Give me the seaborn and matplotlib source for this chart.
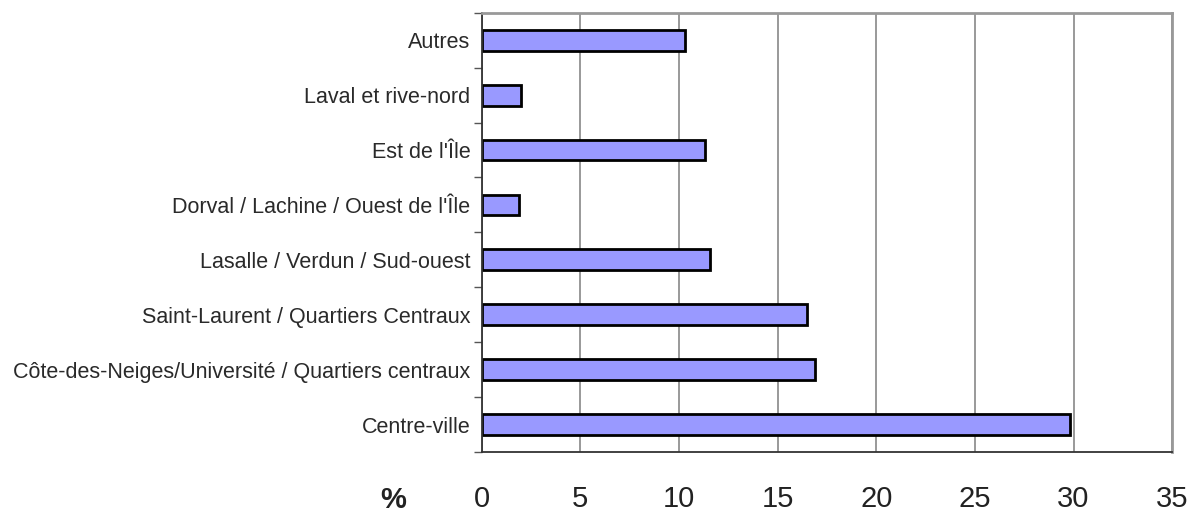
import matplotlib

matplotlib.use("Agg")
import matplotlib.pyplot as plt
import pandas as pd
import seaborn as sns

regions = [
    "Autres",
    "Laval et rive-nord",
    "Est de l'Île",
    "Dorval / Lachine / Ouest de l'Île",
    "Lasalle / Verdun / Sud-ouest",
    "Saint-Laurent / Quartiers Centraux",
    "Côte-des-Neiges/Université / Quartiers centraux",
    "Centre-ville",
]
percent = [10.3, 2.0, 11.3, 1.9, 11.6, 16.5, 16.9, 29.8]
x_ticks = [0, 5, 10, 15, 20, 25, 30, 35]

df = pd.DataFrame({"region": regions, "pct": percent})

sns.set_theme(style="white")
plt.rcParams["font.family"] = ["Liberation Sans", "DejaVu Sans"]

fig = plt.figure(figsize=(12.01, 5.13), dpi=100)
ax = fig.add_axes([0.401, 0.119, 0.575, 0.856])

sns.barplot(data=df, x="pct", y="region", orient="h", color="#9999ff",
            saturation=1, width=0.38, edgecolor="black", linewidth=2, ax=ax)

ax.set_xlim(0, 35)
ax.set_ylim(len(regions) - 0.5, -0.5)
ax.set_xticks(x_ticks)
ax.set_xticklabels([str(t) for t in x_ticks], fontsize=21, color="#222222")
ax.set_yticks(range(len(regions)))
ax.set_yticklabels(regions, fontsize=15.5, color="#2a2a2a")
ax.tick_params(axis="y", length=0, pad=8)
ax.tick_params(axis="x", length=10, width=1.2, color="#555555", pad=14, direction="out")

# minor ticks between categories on the y axis
ax.set_yticks([i + 0.5 for i in range(-1, len(regions))], minor=True)
ax.tick_params(axis="y", which="minor", length=6, width=1, color="#555555", left=True)

ax.xaxis.grid(True, color="#888888", lw=1.2)
ax.set_axisbelow(True)
for side in ["top", "right"]:
    ax.spines[side].set_color("#999999")
    ax.spines[side].set_linewidth(2)
for side in ["left", "bottom"]:
    ax.spines[side].set_color("#333333")
    ax.spines[side].set_linewidth(1.3)

ax.set_xlabel("")
ax.set_ylabel("")
fig.text(393 / 1201, 1 - 500 / 513, "%", fontsize=21, fontweight="bold",
         ha="center", va="center", color="#222222")

fig.savefig("out.png", dpi=100)
